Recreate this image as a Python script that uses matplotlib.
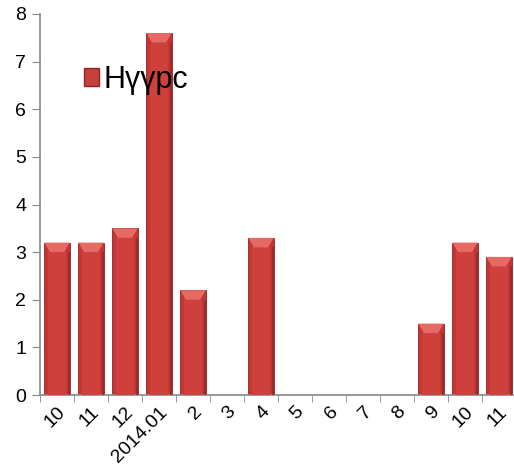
import matplotlib.pyplot as plt
import matplotlib.patches as mpatches
import numpy as np

# Data
months = ["10", "11", "12", "2014.01", "2", "3", "4", "5", "6", "7", "8", "9", "10", "11"]
values = [3.2, 3.2, 3.5, 7.6, 2.2, 0, 3.3, 0, 0, 0, 0, 1.5, 3.2, 2.9]
series_name = "Нүүрс"

plt.rcParams['font.family'] = ['Liberation Sans', 'DejaVu Sans']

fig = plt.figure(figsize=(5.14, 4.71), dpi=100)
ax = fig.add_axes([40 / 514, 1 - 395 / 471, 476 / 514, 381 / 471])

x = np.arange(len(months))
width = 0.74
base = '#c43533'
bars = ax.bar(x, values, width=width, color=base, edgecolor='#8e2523', linewidth=0.6, zorder=2)

# bevel effect on top and sides
bev_h = 0.2
bev_w = 0.16
for xi, v in zip(x, values):
    if v <= 0:
        continue
    x0, x1 = xi - width / 2, xi + width / 2
    h = min(bev_h, v)
    mid = mpatches.Rectangle((x0 + 0.1, 0), width - 0.2, v - h, facecolor='#cf403c',
                             edgecolor='none', zorder=3)
    ax.add_patch(mid)
    top = mpatches.Polygon([(x0, v), (x1, v), (x1 - bev_w, v - h), (x0 + bev_w, v - h)],
                           closed=True, facecolor='#e56a64', edgecolor='none', zorder=3)
    ax.add_patch(top)
    right = mpatches.Rectangle((x1 - 0.06, 0), 0.06, v - h, facecolor='#9d2b29',
                               edgecolor='none', zorder=3)
    ax.add_patch(right)

ax.set_xlim(-0.5, len(months) - 0.5)
ax.set_ylim(0, 8)
ax.set_yticks(range(0, 9))
ax.tick_params(axis='y', labelsize=14, length=6, color='#888888', direction='out', pad=4)

ax.set_xticks(x)
ax.set_xticklabels(months, rotation=45, ha='right', rotation_mode='anchor', fontsize=14)
ax.tick_params(axis='x', which='major', length=0, pad=6)
ax.set_xticks(np.arange(-0.5, len(months), 1), minor=True)
ax.tick_params(axis='x', which='minor', length=5, color='#888888', direction='out')

for s in ['top', 'right']:
    ax.spines[s].set_visible(False)
for s in ['left', 'bottom']:
    ax.spines[s].set_color('#888888')
    ax.spines[s].set_linewidth(1.2)

handle = mpatches.Patch(facecolor='#c4403c', edgecolor='#8e2523', label=series_name)
ax.legend(handles=[handle], loc='center left', bbox_to_anchor=(0.06, 0.827),
          frameon=False, fontsize=22, handlelength=0.5, handleheight=0.5,
          handletextpad=0.15, borderpad=0)

fig.savefig("out.png", dpi=100)
